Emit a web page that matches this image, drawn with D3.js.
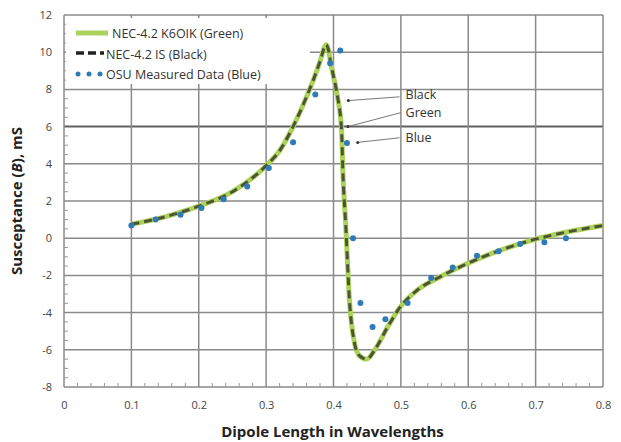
<!DOCTYPE html>
<html>
<head>
<meta charset="utf-8">
<script src="https://cdn.jsdelivr.net/npm/d3@7"></script>
<style>
  body { margin: 0; background: #fff; }
  svg { display: block; }
</style>
</head>
<body>
<div id="chart"></div>
<script>
  // NEC-4.2 curves (green and black are practically identical)
  var necX = [0.10, 0.15, 0.20, 0.25, 0.30, 0.32, 0.34, 0.36, 0.37, 0.38, 0.389, 0.392, 0.396, 0.400, 0.406, 0.412, 0.414, 0.418, 0.424, 0.431, 0.438, 0.449, 0.463, 0.480, 0.498, 0.523, 0.557, 0.597, 0.646, 0.695, 0.745, 0.80];
  var necGreen = [0.75, 1.15, 1.72, 2.5, 3.9, 4.7, 6.0, 7.6, 8.5, 9.5, 10.4, 10.2, 9.4, 8.7, 7.6, 5.8, 3.5, 0.8, -3.5, -5.6, -6.3, -6.5, -5.9, -4.8, -3.75, -2.83, -2.1, -1.39, -0.67, -0.1, 0.32, 0.68];
  var necBlack = [0.75, 1.15, 1.72, 2.5, 3.9, 4.7, 6.0, 7.6, 8.5, 9.5, 10.4, 10.2, 9.4, 8.7, 7.6, 5.8, 3.5, 0.8, -3.5, -5.6, -6.3, -6.5, -5.9, -4.8, -3.75, -2.83, -2.1, -1.39, -0.67, -0.1, 0.32, 0.68];

  // OSU gemeten punten
  var osuX = [0.100, 0.136, 0.173, 0.204, 0.237, 0.272, 0.304, 0.340, 0.373, 0.395, 0.410, 0.420, 0.429, 0.440, 0.458, 0.477, 0.510, 0.545, 0.577, 0.613, 0.645, 0.677, 0.713, 0.745];
  var osuY = [0.68, 1.0, 1.26, 1.63, 2.1, 2.78, 3.77, 5.16, 7.73, 9.4, 10.09, 5.12, 0.0, -3.48, -4.77, -4.36, -3.48, -2.14, -1.57, -0.95, -0.7, -0.31, -0.22, 0.0];

  var xTicks = [0, 0.1, 0.2, 0.3, 0.4, 0.5, 0.6, 0.7, 0.8];
  var yTicks = [-8, -6, -4, -2, 0, 2, 4, 6, 8, 10, 12];

  var legendLabels = ['NEC-4.2 K6OIK (Green)', 'NEC-4.2 IS (Black)', 'OSU Measured Data (Blue)'];

  // annotaties: tekst, punt op de curve, begin van de lijn
  var notes = [
    {text: 'Black', px: 0.422, py: 7.4, lx: 0.498, ly: 7.6},
    {text: 'Green', px: 0.4215, py: 6.0, lx: 0.500, ly: 6.75},
    {text: 'Blue', px: 0.436, py: 5.15, lx: 0.498, ly: 5.4}
  ];

  var margin = {top: 15, right: 18, bottom: 55, left: 64};
  var width = 621 - margin.left - margin.right;
  var height = 442 - margin.top - margin.bottom;

  var svg = d3.select('#chart')
    .append('svg')
    .attr('width', 621)
    .attr('height', 442)
    .style('font-family', "'Open Sans', sans-serif");

  var g = svg.append('g')
    .attr('transform', 'translate(' + margin.left + ',' + margin.top + ')');

  var xScale = d3.scaleLinear().domain([0, 0.8]).range([0, width]);
  var yScale = d3.scaleLinear().domain([-8, 12]).range([height, 0]);

  // gridlijnen
  g.selectAll('.hgrid')
    .data(yTicks)
    .enter().append('line')
    .attr('x1', 0).attr('x2', width)
    .attr('y1', function(d){ return yScale(d); })
    .attr('y2', function(d){ return yScale(d); })
    .attr('stroke', function(d){ return d === 6 ? '#606060' : '#8a8a8a'; })
    .attr('stroke-width', function(d){ return d === 6 ? 2 : 1.5; });

  g.selectAll('.vgrid')
    .data(xTicks)
    .enter().append('line')
    .attr('y1', 0).attr('y2', height)
    .attr('x1', function(d){ return xScale(d); })
    .attr('x2', function(d){ return xScale(d); })
    .attr('stroke', '#8a8a8a')
    .attr('stroke-width', 1.5);

  // kleine tickjes links en onder
  var yMinor = d3.range(-8, 12.01, 0.5).filter(function(d){ return d % 2 !== 0; });
  g.selectAll('.ymin')
    .data(yMinor)
    .enter().append('line')
    .attr('x1', 0).attr('x2', 4)
    .attr('y1', function(d){ return yScale(d); })
    .attr('y2', function(d){ return yScale(d); })
    .attr('stroke', '#999').attr('stroke-width', 1);

  var xMinor = d3.range(0, 0.801, 0.02).filter(function(d){ return Math.abs(d * 10 - Math.round(d * 10)) > 0.01; });
  g.selectAll('.xmin')
    .data(xMinor)
    .enter().append('line')
    .attr('y1', height).attr('y2', height - 4)
    .attr('x1', function(d){ return xScale(d); })
    .attr('x2', function(d){ return xScale(d); })
    .attr('stroke', '#999').attr('stroke-width', 1);

  // as labels
  var xAxis = d3.axisBottom(xScale).tickValues(xTicks).tickSize(0).tickPadding(14)
    .tickFormat(function(d){ return d; });
  var yAxis = d3.axisLeft(yScale).tickValues(yTicks).tickSize(0).tickPadding(12)
    .tickFormat(function(d){ return d; });

  var xa = g.append('g').attr('transform', 'translate(0,' + height + ')').call(xAxis);
  var ya = g.append('g').call(yAxis);
  [xa, ya].forEach(function(a){
    a.select('.domain').remove();
    a.selectAll('text').attr('fill', '#444').style('font-size', '11px').style('font-family', "'Open Sans', sans-serif");
  });

  // wit legendavlak
  g.append('rect')
    .attr('x', 2).attr('y', 3)
    .attr('width', 244).attr('height', 66)
    .attr('fill', '#fff');

  var lineGen = d3.line()
    .x(function(d){ return xScale(d[0]); })
    .y(function(d){ return yScale(d[1]); })
    .curve(d3.curveMonotoneX);

  g.append('path')
    .datum(necX.map(function(x, i){ return [x, necGreen[i]]; }))
    .attr('d', lineGen)
    .attr('fill', 'none')
    .attr('stroke', '#acd25c')
    .attr('stroke-width', 5);

  g.append('path')
    .datum(necX.map(function(x, i){ return [x, necBlack[i]]; }))
    .attr('d', lineGen)
    .attr('fill', 'none')
    .attr('stroke', '#34342a')
    .attr('stroke-width', 3)
    .attr('stroke-dasharray', '8,5')
    .attr('opacity', 0.8);

  g.selectAll('.osu')
    .data(osuX)
    .enter().append('circle')
    .attr('cx', function(d){ return xScale(d); })
    .attr('cy', function(d, i){ return yScale(osuY[i]); })
    .attr('r', 3)
    .attr('fill', '#2f7ab9');

  // legenda
  var leg = g.append('g');
  leg.append('line').attr('x1', 12).attr('x2', 44).attr('y1', 18).attr('y2', 18)
    .attr('stroke', '#acd25c').attr('stroke-width', 5);
  leg.append('line').attr('x1', 12).attr('x2', 40).attr('y1', 38).attr('y2', 38)
    .attr('stroke', '#222').attr('stroke-width', 3.5).attr('stroke-dasharray', '8,4');
  [14, 25, 36].forEach(function(x){
    leg.append('circle').attr('cx', x).attr('cy', 59).attr('r', 2.5).attr('fill', '#2f7ab9');
  });
  leg.selectAll('.lt')
    .data(legendLabels)
    .enter().append('text')
    .attr('x', function(d, i){ return i === 0 ? 48 : 42; })
    .attr('y', function(d, i){ return 23 + i * 20.5; })
    .attr('fill', '#333')
    .style('font-size', '12.5px')
    .text(function(d){ return d; });

  // annotaties
  notes.forEach(function(n){
    g.append('line')
      .attr('x1', xScale(n.lx)).attr('y1', yScale(n.ly))
      .attr('x2', xScale(n.px)).attr('y2', yScale(n.py))
      .attr('stroke', '#777').attr('stroke-width', 1);
    g.append('circle')
      .attr('cx', xScale(n.px)).attr('cy', yScale(n.py))
      .attr('r', 1.5).attr('fill', '#333');
  });
  g.selectAll('.note')
    .data(notes)
    .enter().append('text')
    .attr('x', xScale(0.507))
    .attr('y', function(d, i){ return [84, 102, 127][i]; })
    .attr('fill', '#333')
    .style('font-size', '12.5px')
    .text(function(d){ return d.text; });

  // as titels
  var yTitle = svg.append('text')
    .attr('transform', 'translate(22,' + (margin.top + height / 2) + ') rotate(-90)')
    .attr('text-anchor', 'middle')
    .attr('fill', '#222')
    .style('font-size', '15px')
    .style('font-weight', 'bold');
  yTitle.append('tspan').text('Susceptance (');
  yTitle.append('tspan').style('font-style', 'italic').text('B');
  yTitle.append('tspan').text('), mS');

  svg.append('text')
    .attr('x', margin.left + width / 2 - 1)
    .attr('y', 437)
    .attr('text-anchor', 'middle')
    .attr('fill', '#222')
    .style('font-size', '15px')
    .style('font-weight', 'bold')
    .text('Dipole Length in Wavelengths');
</script>
</body>
</html>
